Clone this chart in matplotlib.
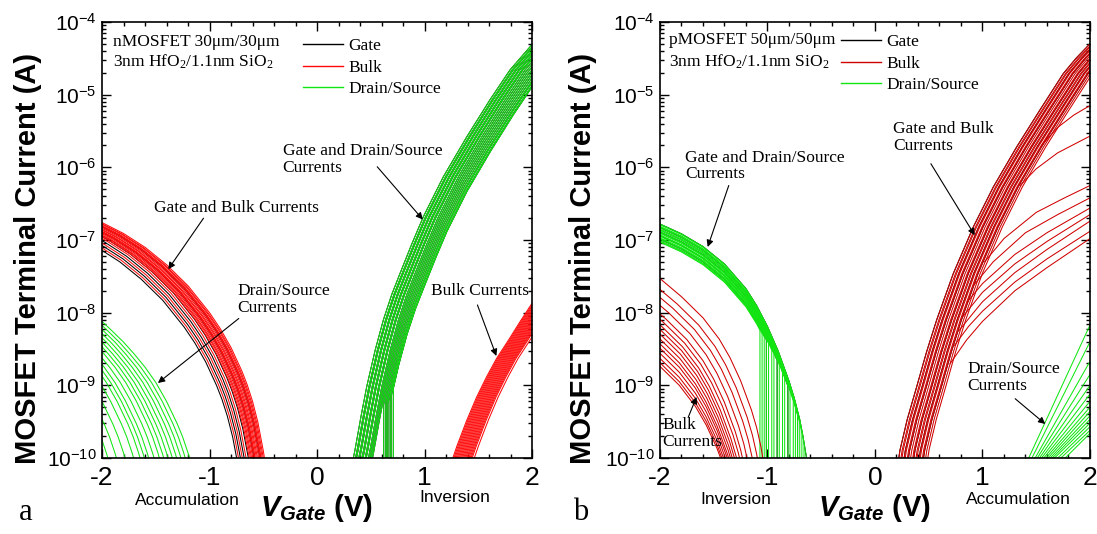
import numpy as np
import matplotlib
matplotlib.use("Agg")
import matplotlib.pyplot as plt
from matplotlib.lines import Line2D
from matplotlib.ticker import FixedLocator, MultipleLocator, LogLocator, NullFormatter, FuncFormatter

plt.rcParams.update({
    "font.family": "Liberation Sans",
    "mathtext.fontset": "custom",
    "mathtext.rm": "Liberation Serif",
    "mathtext.sf": "Liberation Sans",
    "mathtext.it": "Liberation Serif:italic",
    "mathtext.bf": "Liberation Sans:bold",
    "mathtext.bfit": "Liberation Sans:bold:italic",
    "axes.unicode_minus": False,
})

# all currents stored as log10(I / A); voltages in V
# ---- nMOSFET (a) ----
# gate and bulk, accumulation side (outer curve of the family)
A_ACC_V = [-2.0, -1.8, -1.6, -1.4, -1.2, -1.0, -0.9, -0.8, -0.7, -0.65, -0.6, -0.55, -0.5, -0.48, -0.46]
A_ACC_L = [-6.76, -6.91, -7.10, -7.34, -7.63, -8.00, -8.22, -8.48, -8.80, -8.99, -9.22, -9.51, -9.90, -10.08, -10.28]
A_ACC_BULK_DX = [0, -0.01, -0.02, -0.03, -0.03, -0.04, -0.05, -0.06, -0.07, -0.08, -0.08,
                 -0.09, -0.10, -0.11, -0.12, -0.13, -0.16, -0.19, -0.22]
A_ACC_BULK_DY = [0, -0.01, -0.01, -0.02, -0.03, -0.03, -0.04, -0.05, -0.05, -0.06, -0.07,
                 -0.07, -0.08, -0.09, -0.09, -0.10, -0.10, -0.14, -0.18]
A_ACC_GATE_DX = [-0.04, -0.09, -0.14, -0.175, -0.205, -0.235]
A_ACC_GATE_DY = [-0.03, -0.07, -0.09, -0.12, -0.16, -0.20]

# drain/source, accumulation side
A_DSACC_V = [-2.0, -1.9, -1.8, -1.7, -1.6, -1.5, -1.4, -1.3, -1.25, -1.2, -1.17, -1.15]
A_DSACC_L = [-8.12, -8.26, -8.405, -8.57, -8.75, -8.96, -9.22, -9.53, -9.71, -9.93, -10.08, -10.2]
A_DSACC_DX = [0, -0.04, -0.08, -0.12, -0.16, -0.20, -0.24, -0.28, -0.33, -0.38,
              -0.42, -0.46, -0.52, -0.60, -0.68, -0.76]

# gate and drain/source, inversion side
A_INV_V = [0.31, 0.353, 0.41, 0.462, 0.54, 0.617, 0.695, 0.772, 0.88, 0.989, 1.175, 1.393, 1.609, 1.795, 2.0]
A_INV_L = [-10.2, -9.89, -9.42, -9.02, -8.52, -8.10, -7.75, -7.46, -7.06, -6.68, -6.13, -5.58, -5.07, -4.66, -4.31]
A_INV_DX = [0, 0.02, 0.03, 0.05, 0.06, 0.08, 0.09, 0.11, 0.12, 0.14, 0.15, 0.16,
            0.17, 0.18, 0.19, 0.20, 0.21, 0.21, 0.22, 0.22]
A_INV_DY = [0, 0, 0, 0, 0, 0, 0, 0, 0, 0, -0.02, -0.04,
            -0.06, -0.08, -0.10, -0.12, -0.14, -0.16, -0.18, -0.20]
A_INV_DROP = [None] * 13 + [0.62, 0.64, 0.65, 0.66, 0.68, 0.69, 0.71]

# bulk, inversion side
A_BINV_V = [1.24, 1.30, 1.393, 1.485, 1.578, 1.67, 1.78, 1.89, 2.0]
A_BINV_L = [-10.1, -9.84, -9.48, -9.16, -8.88, -8.63, -8.38, -8.12, -7.87]
A_BINV_DX = [0, 0.01, 0.02, 0.03, 0.04, 0.05, 0.06, 0.07, 0.08, 0.09, 0.10,
             0.11, 0.12, 0.13, 0.14, 0.15, 0.16, 0.17, 0.18, 0.20]

# ---- pMOSFET (b) ----
# gate and drain/source, inversion side
B_INV_V = [-2.0, -1.8, -1.6, -1.4, -1.2, -1.1, -1.0, -0.9, -0.8, -0.75, -0.70, -0.67, -0.64, -0.62]
B_INV_L = [-6.78, -6.915, -7.09, -7.33, -7.67, -7.905, -8.19, -8.53, -8.94, -9.18, -9.47, -9.70, -9.97, -10.17]
B_INV_DY = [0, -0.01, -0.03, -0.04, -0.05, -0.07, -0.08, -0.09, -0.11, -0.12,
            -0.13, -0.15, -0.16, -0.17, -0.19, -0.20, -0.21, -0.23, -0.24, -0.25]
B_INV_DROP = [None, -0.66, -0.68, -0.70, -0.72, -0.74, -0.76, -0.79, -0.81, -0.84,
              -0.86, -0.89, -0.91, -0.94, -0.96, -0.99, -1.01, -1.03, -1.05, -1.07]

# bulk, inversion side
B_BINV_V = [-2.0, -1.8, -1.6, -1.45, -1.35, -1.25, -1.15, -1.10, -1.06, -1.04, -1.02]
B_BINV_L = [-7.53, -7.78, -8.07, -8.36, -8.615, -8.935, -9.335, -9.585, -9.85, -10.03, -10.23]
B_BINV_DX = [0, -0.04, -0.08, -0.12, -0.15, -0.17, -0.19, -0.20, -0.21, -0.215,
             -0.22, -0.22, -0.22, -0.22, -0.22, -0.22]
B_BINV_DY = [0, -0.10, -0.16, -0.22, -0.30, -0.35, -0.40, -0.45, -0.50, -0.56,
             -0.62, -0.68, -0.75, -0.82, -0.88, -0.93]

# gate and bulk, accumulation side
B_ACC_V = [0.19, 0.233, 0.30, 0.388, 0.48, 0.574, 0.729, 0.915, 1.101, 1.318, 1.535, 1.752, 1.87, 2.0]
B_ACC_L = [-10.3, -9.89, -9.47, -9.02, -8.54, -8.10, -7.46, -6.82, -6.27, -5.72, -5.21, -4.71, -4.50, -4.30]
B_ACC_DX = [0, 0.02, 0.03, 0.05, 0.06, 0.08, 0.09, 0.11, 0.13, 0.14, 0.16, 0.17,
            0.19, 0.20, 0.22, 0.23, 0.25, 0.27]

# bulk curves leaving the accumulation band
B_FAN_V = [
    [1.55, 1.70, 1.85, 2.0],
    [1.35, 1.50, 1.70, 2.0],
    [1.02, 1.20, 1.50, 1.75, 2.0],
    [0.92, 1.10, 1.40, 1.70, 2.0],
    [0.86, 1.00, 1.30, 1.60, 2.0],
    [0.82, 1.00, 1.30, 1.60, 2.0],
    [0.78, 0.90, 1.00, 1.30, 1.60, 2.0],
    [0.74, 0.87, 1.00, 1.30, 1.60, 2.0],
    [0.70, 0.85, 1.00, 1.30, 1.60, 2.0],
]
B_FAN_L = [
    [-5.70, -5.45, -5.28, -5.15],
    [-6.25, -6.02, -5.80, -5.57],
    [-7.30, -6.98, -6.62, -6.43, -6.25],
    [-7.62, -7.30, -6.90, -6.65, -6.42],
    [-7.85, -7.60, -7.20, -6.90, -6.56],
    [-8.05, -7.72, -7.33, -7.02, -6.65],
    [-8.25, -8.03, -7.85, -7.45, -7.13, -6.74],
    [-8.45, -8.19, -7.98, -7.58, -7.26, -6.88],
    [-8.70, -8.38, -8.12, -7.70, -7.38, -6.98],
]

# drain/source, accumulation side: onset voltage and value at +2 V
B_DS_VON = [1.43, 1.46, 1.49, 1.51, 1.53, 1.55, 1.57, 1.59, 1.61, 1.63, 1.65, 1.67, 1.70, 1.73, 1.77]
B_DS_LEND = [-8.17, -8.40, -8.67, -8.85, -9.00, -9.12, -9.22, -9.30, -9.36, -9.42,
             -9.47, -9.52, -9.57, -9.62, -9.66]
B_DS_VEND = 2.0

X_TICKS = [-2, -1, 0, 1, 2]
X_TICK_LABELS = ["-2", "-1", "0", "1", "2"]
Y_DECADES = [-10, -9, -8, -7, -6, -5, -4]

RED_A = "#ff0a0a"
RED_B = "#d00000"
GREEN = "#12e612"
BLACK = "#000000"
SERIF = "Liberation Serif"


def draw_family(ax, base_v, base_l, color, dxs=None, dys=None, drops=None, lw=0.75):
    n = len(dxs) if dxs is not None else len(dys)
    for k in range(n):
        v = np.asarray(base_v, float) + (dxs[k] if dxs is not None else 0.0)
        l = np.asarray(base_l, float) + (dys[k] if dys is not None else 0.0)
        if drops is not None and drops[k] is not None:
            # current collapses below the range at this gate voltage
            d = drops[k]
            l_d = np.interp(d, v, l)
            if l[0] < l[-1]:
                keep = v > d
                v = np.concatenate([[d, d], v[keep]])
                l = np.concatenate([[-11.0, l_d], l[keep]])
            else:
                keep = v < d
                v = np.concatenate([v[keep], [d, d]])
                l = np.concatenate([l[keep], [l_d, -11.0]])
        ax.plot(v, 10.0 ** l, color=color, lw=lw, solid_joinstyle="round")


def style_axes(ax):
    ax.set_yscale("log")
    ax.set_xlim(-2, 2)
    ax.set_ylim(1e-10, 1e-4)
    ax.xaxis.set_major_locator(FixedLocator(X_TICKS))
    ax.set_xticklabels(X_TICK_LABELS)
    ax.xaxis.set_minor_locator(MultipleLocator(0.2))
    ax.yaxis.set_major_locator(FixedLocator([10.0 ** e for e in Y_DECADES]))
    ax.yaxis.set_minor_locator(LogLocator(base=10, subs=np.arange(2, 10), numticks=12))
    ax.yaxis.set_minor_formatter(NullFormatter())
    ax.yaxis.set_major_formatter(FuncFormatter(
        lambda y, pos: r"$\mathsf{10^{%d}}$" % round(np.log10(y))))
    ax.tick_params(which="both", direction="in", top=True, right=True, width=1.0)
    ax.tick_params(which="major", length=6.5)
    ax.tick_params(which="minor", length=3)
    ax.tick_params(axis="x", labelsize=19, pad=6)
    ax.tick_params(axis="y", labelsize=15, pad=4)
    for s in ax.spines.values():
        s.set_linewidth(1.2)


def arrow(ax, tail, tip):
    ax.annotate("", xy=tip, xytext=tail, xycoords="axes fraction", textcoords="axes fraction",
                arrowprops=dict(arrowstyle="-|>", color="k", lw=0.8, mutation_scale=10,
                                shrinkA=0, shrinkB=0))


def note(ax, x, y, s, size=12.5):
    ax.text(x, y, s, transform=ax.transAxes, ha="left", va="center",
            fontsize=size, family=SERIF, linespacing=1.05)


def add_legend(ax, red, x, y):
    handles = [Line2D([], [], color=BLACK, lw=1.0),
               Line2D([], [], color=red, lw=1.0),
               Line2D([], [], color=GREEN, lw=1.0)]
    ax.legend(handles, ["Gate", "Bulk", "Drain/Source"], loc="upper left",
              bbox_to_anchor=(x, y), frameon=False, prop={"family": SERIF, "size": 12.5},
              handlelength=2.3, handletextpad=0.3, labelspacing=0.3,
              borderpad=0, borderaxespad=0)


fig = plt.figure(figsize=(10.97, 5.34), dpi=100)
ax_a = fig.add_axes([0.0930, 0.1423, 0.3920, 0.8165])
ax_b = fig.add_axes([0.6016, 0.1423, 0.3920, 0.8165])

# ---- panel a ----
draw_family(ax_a, A_ACC_V, A_ACC_L, BLACK, A_ACC_GATE_DX, A_ACC_GATE_DY)
draw_family(ax_a, A_ACC_V, A_ACC_L, RED_A, A_ACC_BULK_DX, A_ACC_BULK_DY)
draw_family(ax_a, A_DSACC_V, A_DSACC_L, GREEN, A_DSACC_DX)
draw_family(ax_a, A_INV_V, A_INV_L, BLACK, A_INV_DX, A_INV_DY, A_INV_DROP)
draw_family(ax_a, A_INV_V, A_INV_L, GREEN, A_INV_DX, A_INV_DY, A_INV_DROP)
draw_family(ax_a, A_BINV_V, A_BINV_L, RED_A, A_BINV_DX)
style_axes(ax_a)

note(ax_a, 0.025, 0.955, "nMOSFET 30\u03bcm/30\u03bcm")
note(ax_a, 0.025, 0.909, "3nm HfO$_2$/1.1nm SiO$_2$")
add_legend(ax_a, RED_A, 0.468, 0.963)
note(ax_a, 0.121, 0.574, "Gate and Bulk Currents")
arrow(ax_a, (0.236, 0.550), (0.154, 0.433))
note(ax_a, 0.315, 0.364, "Drain/Source\nCurrents")
arrow(ax_a, (0.318, 0.320), (0.130, 0.172))
note(ax_a, 0.420, 0.684, "Gate and Drain/Source\nCurrents")
arrow(ax_a, (0.640, 0.668), (0.746, 0.547))
note(ax_a, 0.765, 0.383, "Bulk Currents")
arrow(ax_a, (0.873, 0.351), (0.917, 0.234))
ax_a.text(0.199, -0.098, "Accumulation", transform=ax_a.transAxes, ha="center", va="center", fontsize=12.5)
ax_a.text(0.820, -0.090, "Inversion", transform=ax_a.transAxes, ha="center", va="center", fontsize=12.5)

# ---- panel b ----
draw_family(ax_b, B_INV_V, B_INV_L, BLACK, dys=B_INV_DY[::4], drops=B_INV_DROP[::4])
draw_family(ax_b, B_INV_V, B_INV_L, GREEN, dys=B_INV_DY, drops=B_INV_DROP)
draw_family(ax_b, B_BINV_V, B_BINV_L, RED_B, B_BINV_DX, B_BINV_DY)
draw_family(ax_b, B_ACC_V, B_ACC_L, BLACK, B_ACC_DX[::3])
draw_family(ax_b, B_ACC_V, B_ACC_L, RED_B, B_ACC_DX)
for fv, fl in zip(B_FAN_V, B_FAN_L):
    ax_b.plot(fv, 10.0 ** np.asarray(fl), color=RED_B, lw=0.75)
for von, lend in zip(B_DS_VON, B_DS_LEND):
    ax_b.plot([von, B_DS_VEND], [1e-10, 10.0 ** lend], color=GREEN, lw=0.75)
style_axes(ax_b)

note(ax_b, 0.020, 0.959, "pMOSFET 50\u03bcm/50\u03bcm")
note(ax_b, 0.020, 0.908, "3nm HfO$_2$/1.1nm SiO$_2$")
add_legend(ax_b, RED_B, 0.421, 0.972)
note(ax_b, 0.058, 0.670, "Gate and Drain/Source\nCurrents")
arrow(ax_b, (0.160, 0.625), (0.111, 0.484))
note(ax_b, 0.542, 0.735, "Gate and Bulk\nCurrents")
arrow(ax_b, (0.630, 0.675), (0.732, 0.511))
note(ax_b, 0.715, 0.185, "Drain/Source\nCurrents")
arrow(ax_b, (0.826, 0.136), (0.896, 0.078))
note(ax_b, 0.005, 0.056, "Bulk\nCurrents")
arrow(ax_b, (0.066, 0.094), (0.085, 0.140))
ax_b.text(0.177, -0.096, "Inversion", transform=ax_b.transAxes, ha="center", va="center", fontsize=12.5)
ax_b.text(0.833, -0.096, "Accumulation", transform=ax_b.transAxes, ha="center", va="center", fontsize=12.5)

for ax, lx in ((ax_a, 28 / 1097), (ax_b, 583 / 1097)):
    ax.text(0.5, -0.132, r"$\mathbfit{V}_{\mathbfit{Gate}}$ (V)", transform=ax.transAxes,
            ha="center", va="baseline", fontsize=21, fontweight="bold")
    fig.text(lx, 1 - 258.5 / 534, "MOSFET Terminal Current (A)", rotation=90,
             ha="center", va="center", fontsize=21, fontweight="bold")

fig.text(26 / 1097, 1 - 512 / 534, "a", family=SERIF, fontsize=22, ha="center", va="center")
fig.text(581 / 1097, 1 - 512 / 534, "b", family=SERIF, fontsize=22, ha="center", va="center")

fig.savefig("out.png", dpi=100)
